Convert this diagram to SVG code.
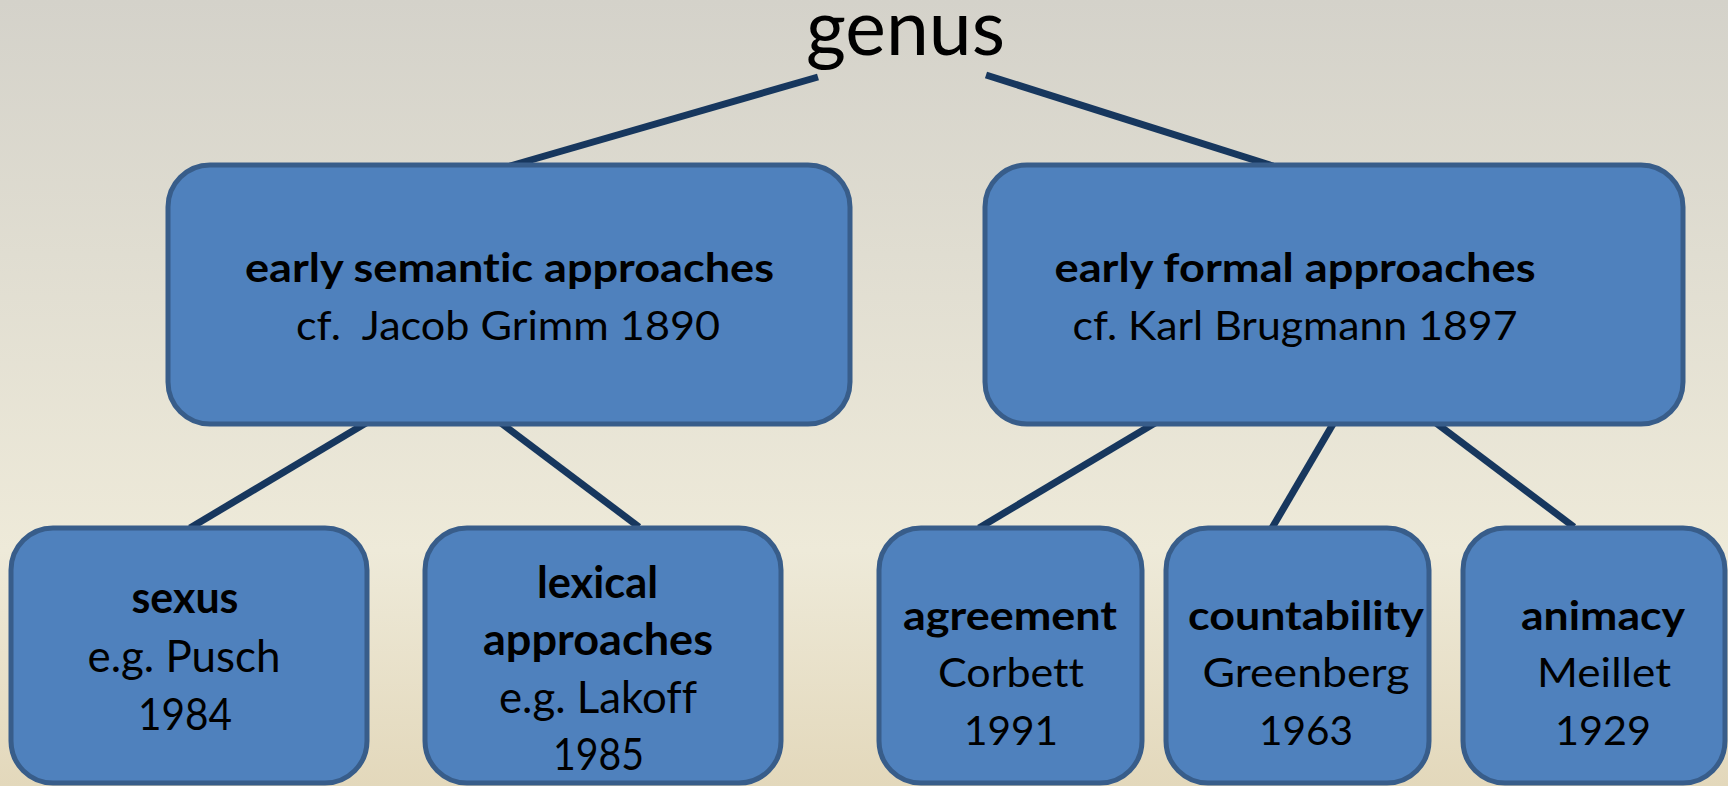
<svg xmlns="http://www.w3.org/2000/svg" width="1728" height="786" viewBox="0 0 1728 786">
<defs>
<linearGradient id="bg" x1="0" y1="0" x2="0" y2="1">
<stop offset="0" stop-color="#D4D2CA"/>
<stop offset="0.7" stop-color="#EEEAD9"/>
<stop offset="1" stop-color="#E3D8BB"/>
</linearGradient>
<style>
.box{fill:#4F81BD;stroke:#385D8A;stroke-width:5}
.con line{stroke:#17375E;stroke-width:7;stroke-linecap:butt}
text{font-family:Lato,"Open Sans","Liberation Sans",sans-serif;fill:#000;text-anchor:middle;font-variant-ligatures:none;font-feature-settings:"liga" 0,"clig" 0}
.b{font-weight:bold}
.t{font-size:41px}
.s{font-size:44px}
.m{font-size:40px}
</style>
</defs>
<rect x="0" y="0" width="1728" height="786" fill="url(#bg)"/>
<g id="title">
<text x="905.5" y="55" style="font-size:77px" textLength="199" lengthAdjust="spacingAndGlyphs">genus</text>
</g>
<g id="connectors" class="con">
<line x1="818" y1="77" x2="510" y2="166"/>
<line x1="986" y1="75" x2="1273" y2="166"/>
<line x1="366" y1="423" x2="190" y2="528"/>
<line x1="501" y1="423" x2="639" y2="527"/>
<line x1="1155" y1="423" x2="979" y2="528"/>
<line x1="1333" y1="424" x2="1272" y2="528"/>
<line x1="1436" y1="423" x2="1574" y2="527"/>
</g>
<g id="semantic">
<rect class="box" x="168" y="165" width="682" height="259" rx="42" ry="42"/>
<text class="t b" x="509.5" y="282" textLength="529" lengthAdjust="spacingAndGlyphs">early semantic approaches</text>
<text class="t" x="508" y="340" textLength="424" lengthAdjust="spacingAndGlyphs" xml:space="preserve">cf.  Jacob Grimm 1890</text>
</g>
<g id="formal">
<rect class="box" x="985" y="165" width="698" height="259" rx="42" ry="42"/>
<text class="t b" x="1295" y="282" textLength="481" lengthAdjust="spacingAndGlyphs">early formal approaches</text>
<text class="t" x="1295" y="340" textLength="445" lengthAdjust="spacingAndGlyphs">cf. Karl Brugmann 1897</text>
</g>
<g id="sexus">
<rect class="box" x="11" y="528" width="356" height="255" rx="42" ry="42"/>
<text class="s b" x="185" y="613" textLength="107" lengthAdjust="spacingAndGlyphs">sexus</text>
<text class="s" x="184" y="672" textLength="193" lengthAdjust="spacingAndGlyphs">e.g. Pusch</text>
<text class="s" x="185" y="730" textLength="94" lengthAdjust="spacingAndGlyphs">1984</text>
</g>
<g id="lexical">
<rect class="box" x="425" y="528" width="356" height="255" rx="42" ry="42"/>
<text class="s b" x="597.5" y="598" textLength="121" lengthAdjust="spacingAndGlyphs">lexical</text>
<text class="s b" x="598" y="655" textLength="230" lengthAdjust="spacingAndGlyphs">approaches</text>
<text class="s" x="598" y="713" textLength="198" lengthAdjust="spacingAndGlyphs">e.g. Lakoff</text>
<text class="s" x="598.5" y="770" textLength="91" lengthAdjust="spacingAndGlyphs">1985</text>
</g>
<g id="agreement">
<rect class="box" x="879" y="528" width="263" height="255" rx="42" ry="42"/>
<text class="m b" x="1010" y="630" textLength="214" lengthAdjust="spacingAndGlyphs">agreement</text>
<text class="m" x="1011" y="687" textLength="146" lengthAdjust="spacingAndGlyphs">Corbett</text>
<text class="m" x="1011" y="745" textLength="94" lengthAdjust="spacingAndGlyphs">1991</text>
</g>
<g id="countability">
<rect class="box" x="1166" y="528" width="263" height="255" rx="42" ry="42"/>
<text class="m b" x="1306" y="630" textLength="236" lengthAdjust="spacingAndGlyphs">countability</text>
<text class="m" x="1306" y="687" textLength="207" lengthAdjust="spacingAndGlyphs">Greenberg</text>
<text class="m" x="1306" y="745" textLength="94" lengthAdjust="spacingAndGlyphs">1963</text>
</g>
<g id="animacy">
<rect class="box" x="1463" y="528" width="262" height="255" rx="42" ry="42"/>
<text class="m b" x="1603" y="630" textLength="164" lengthAdjust="spacingAndGlyphs">animacy</text>
<text class="m" x="1604" y="687" textLength="134" lengthAdjust="spacingAndGlyphs">Meillet</text>
<text class="m" x="1603" y="745" textLength="96" lengthAdjust="spacingAndGlyphs">1929</text>
</g>
</svg>
